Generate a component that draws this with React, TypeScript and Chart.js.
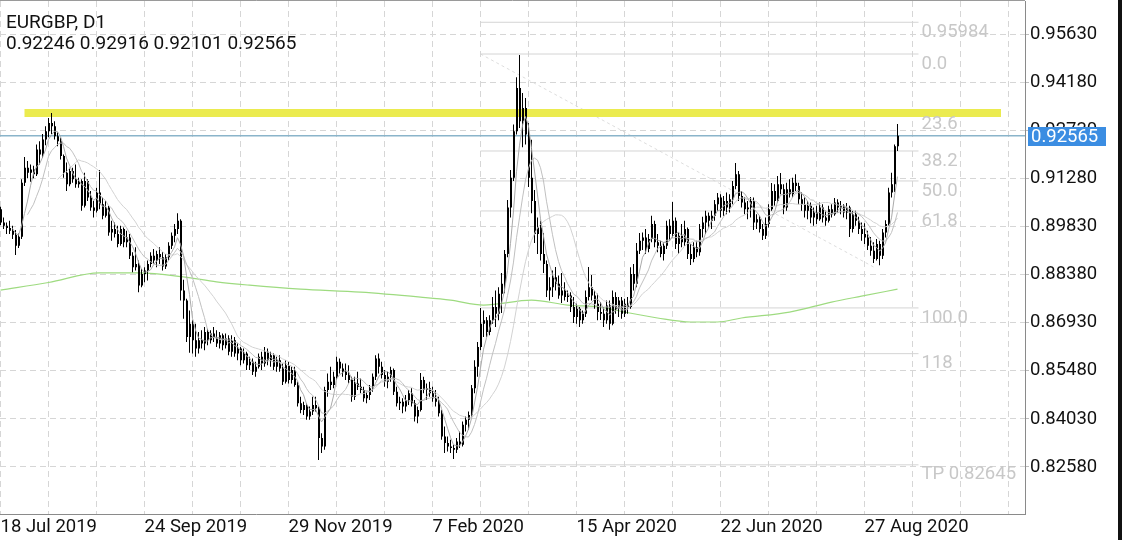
import React, { useEffect, useRef } from 'react';
import { Chart, registerables } from 'chart.js';

Chart.register(...registerables);

// ---- axis ticks ----
const dateLabels = ['18 Jul 2019', '24 Sep 2019', '29 Nov 2019', '7 Feb 2020', '15 Apr 2020', '22 Jun 2020', '27 Aug 2020'];
const dateLabelBars = [0, 48, 96, 144, 192, 240, 288];
const gridBars = [0, 16, 32, 48, 64, 80, 96, 112, 128, 144, 160, 176, 192, 208, 224, 240, 256, 272, 288, 304, 320, 336];
const priceTicks = [0.8258, 0.8403, 0.8548, 0.8693, 0.8838, 0.8983, 0.9128, 0.9273, 0.9418, 0.9563];

// ---- header ----
const symbolTitle = 'EURGBP, D1';
const lastBarText = '0.92246 0.92916 0.92101 0.92565';
const lastClose = 0.92565;

// ---- daily candles, [open, high, low, close] in units of 0.0001 ----
const candlesJulSep2019 = [
  [9035, 9042, 8987, 8995], [8995, 9010, 8975, 8985], [8985, 8995, 8960, 8978], [8978, 9000, 8960, 8970], [8970, 8985, 8945, 8958],
  [8958, 8972, 8897, 8925], [8925, 8962, 8918, 8952], [8952, 9125, 8945, 9115], [9115, 9192, 9105, 9160], [9160, 9180, 9128, 9145],
  [9145, 9170, 9118, 9155], [9155, 9166, 9128, 9140], [9140, 9230, 9135, 9215], [9215, 9240, 9170, 9200], [9200, 9262, 9190, 9245],
  [9245, 9285, 9228, 9270], [9270, 9310, 9252, 9295], [9295, 9325, 9262, 9285], [9285, 9300, 9245, 9255], [9255, 9266, 9225, 9240],
  [9240, 9250, 9185, 9195], [9195, 9200, 9130, 9145], [9145, 9176, 9090, 9110], [9110, 9160, 9104, 9150], [9150, 9160, 9115, 9125],
  [9125, 9170, 9100, 9110], [9110, 9130, 9100, 9120], [9120, 9125, 9030, 9045], [9045, 9145, 9040, 9120], [9120, 9125, 9060, 9070],
  [9070, 9090, 9030, 9040], [9040, 9060, 9010, 9030], [9030, 9100, 9025, 9085], [9085, 9153, 9035, 9050], [9050, 9070, 9005, 9015],
  [9015, 9060, 9010, 9040], [9040, 9045, 8955, 8965], [8965, 9000, 8940, 8975], [8975, 8995, 8950, 8960], [8960, 8985, 8920, 8930],
  [8930, 8985, 8925, 8975], [8975, 8980, 8920, 8935], [8935, 8970, 8920, 8950], [8950, 8960, 8885, 8895], [8895, 8905, 8845, 8860],
  [8860, 8920, 8850, 8870], [8870, 8880, 8785, 8805], [8805, 8855, 8800, 8840], [8840, 8860, 8815, 8850], [8850, 8880, 8820, 8870],
];
const candlesSepDec2019 = [
  [8870, 8905, 8860, 8895], [8895, 8915, 8870, 8880], [8880, 8910, 8860, 8900], [8900, 8920, 8870, 8890], [8890, 8905, 8850, 8862],
  [8862, 8900, 8855, 8890], [8890, 8935, 8880, 8925], [8925, 8965, 8915, 8955], [8955, 8990, 8935, 8975], [8975, 9023, 8960, 9000],
  [9000, 9005, 8760, 8790], [8790, 8822, 8705, 8760], [8760, 8765, 8635, 8650], [8650, 8730, 8602, 8690], [8690, 8700, 8600, 8640],
  [8640, 8690, 8590, 8615], [8615, 8665, 8600, 8640], [8640, 8670, 8615, 8630], [8630, 8680, 8610, 8665], [8665, 8675, 8625, 8640],
  [8640, 8670, 8630, 8660], [8660, 8680, 8635, 8650], [8650, 8670, 8620, 8630], [8630, 8665, 8615, 8655], [8655, 8660, 8610, 8625],
  [8625, 8660, 8615, 8645], [8645, 8655, 8595, 8605], [8605, 8655, 8590, 8640], [8640, 8650, 8590, 8600], [8600, 8630, 8580, 8615],
  [8615, 8620, 8565, 8580], [8580, 8615, 8570, 8600], [8600, 8605, 8550, 8565], [8565, 8590, 8550, 8575], [8575, 8585, 8535, 8545],
  [8545, 8575, 8530, 8560], [8560, 8600, 8555, 8590], [8590, 8605, 8550, 8570], [8570, 8620, 8560, 8605], [8605, 8615, 8565, 8580],
  [8580, 8605, 8560, 8595], [8595, 8600, 8550, 8560], [8560, 8590, 8545, 8580], [8580, 8595, 8545, 8555], [8555, 8570, 8505, 8515],
  [8515, 8580, 8510, 8565], [8565, 8575, 8510, 8520], [8520, 8560, 8510, 8550], [8550, 8560, 8500, 8505], [8505, 8515, 8440, 8450],
];
const candlesDecFeb2020 = [
  [8450, 8470, 8420, 8430], [8430, 8455, 8415, 8445], [8445, 8450, 8400, 8410], [8410, 8440, 8400, 8425], [8425, 8470, 8415, 8445],
  [8445, 8470, 8425, 8435], [8435, 8440, 8279, 8345], [8345, 8360, 8300, 8320], [8320, 8500, 8310, 8490], [8490, 8540, 8470, 8515],
  [8515, 8560, 8490, 8505], [8505, 8545, 8495, 8530], [8530, 8590, 8520, 8575], [8575, 8585, 8540, 8555], [8555, 8570, 8530, 8545],
  [8545, 8570, 8520, 8535], [8535, 8565, 8510, 8520], [8520, 8530, 8455, 8470], [8470, 8530, 8460, 8510], [8510, 8545, 8490, 8500],
  [8500, 8525, 8480, 8490], [8490, 8500, 8455, 8465], [8465, 8485, 8450, 8475], [8475, 8505, 8460, 8495], [8495, 8540, 8485, 8530],
  [8530, 8595, 8520, 8585], [8585, 8600, 8540, 8560], [8560, 8575, 8525, 8535], [8535, 8550, 8500, 8515], [8515, 8545, 8495, 8530],
  [8530, 8560, 8515, 8550], [8550, 8555, 8475, 8485], [8485, 8500, 8440, 8450], [8450, 8470, 8430, 8455], [8455, 8465, 8420, 8440],
  [8440, 8475, 8425, 8460], [8460, 8490, 8445, 8480], [8480, 8495, 8440, 8450], [8450, 8460, 8395, 8410], [8410, 8440, 8390, 8430],
  [8430, 8541, 8425, 8520], [8520, 8530, 8480, 8490], [8490, 8510, 8460, 8495], [8495, 8515, 8470, 8480], [8480, 8500, 8455, 8465],
  [8465, 8490, 8440, 8455], [8455, 8470, 8410, 8420], [8420, 8430, 8340, 8350], [8350, 8380, 8300, 8330], [8330, 8350, 8305, 8320],
];
const candlesFebApr2020 = [
  [8320, 8340, 8300, 8315], [8315, 8325, 8282, 8310], [8310, 8345, 8300, 8335], [8335, 8365, 8315, 8325], [8325, 8395, 8320, 8385],
  [8385, 8410, 8365, 8400], [8400, 8425, 8370, 8415], [8415, 8505, 8410, 8495], [8495, 8580, 8480, 8560], [8560, 8635, 8530, 8620],
  [8620, 8737, 8610, 8690], [8690, 8730, 8650, 8700], [8700, 8710, 8650, 8665], [8665, 8715, 8655, 8700], [8700, 8770, 8690, 8740],
  [8740, 8790, 8680, 8720], [8720, 8800, 8700, 8780], [8780, 8843, 8722, 8810], [8810, 8912, 8782, 8900], [8900, 9063, 8890, 9040],
  [9040, 9153, 9010, 9130], [9130, 9290, 9120, 9270], [9270, 9433, 9260, 9400], [9400, 9500, 9280, 9300], [9300, 9385, 9222, 9340],
  [9340, 9370, 9230, 9260], [9260, 9295, 9102, 9130], [9130, 9244, 9023, 9060], [9060, 9093, 8933, 8960], [8960, 9010, 8900, 8980],
  [8980, 9000, 8880, 8900], [8900, 8963, 8843, 8870], [8870, 8880, 8770, 8790], [8790, 8830, 8760, 8800], [8800, 8850, 8770, 8830],
  [8830, 8861, 8790, 8810], [8810, 8835, 8765, 8775], [8775, 8843, 8752, 8790], [8790, 8815, 8760, 8770], [8770, 8790, 8755, 8775],
  [8775, 8785, 8725, 8740], [8740, 8770, 8692, 8710], [8710, 8750, 8690, 8735], [8735, 8740, 8680, 8700], [8700, 8730, 8690, 8720],
  [8720, 8790, 8710, 8770], [8770, 8861, 8760, 8800], [8800, 8837, 8760, 8775], [8775, 8790, 8735, 8750], [8750, 8780, 8700, 8725],
];
const candlesAprJul2020 = [
  [8725, 8755, 8701, 8720], [8720, 8740, 8680, 8700], [8700, 8760, 8690, 8745], [8745, 8760, 8672, 8690], [8690, 8790, 8685, 8770],
  [8770, 8785, 8720, 8735], [8735, 8770, 8710, 8760], [8760, 8770, 8705, 8720], [8720, 8765, 8710, 8750], [8750, 8770, 8720, 8740],
  [8740, 8860, 8735, 8840], [8840, 8870, 8790, 8810], [8810, 8933, 8800, 8910], [8910, 8963, 8900, 8940], [8940, 8965, 8912, 8950],
  [8950, 8975, 8900, 8915], [8915, 8960, 8905, 8945], [8945, 9015, 8935, 8990], [8990, 9000, 8920, 8935], [8935, 8960, 8905, 8925],
  [8925, 8940, 8890, 8900], [8900, 8935, 8880, 8925], [8925, 9000, 8915, 8985], [8985, 9005, 8940, 8960], [8960, 9057, 8950, 9000],
  [9000, 9010, 8915, 8930], [8930, 8965, 8900, 8955], [8955, 8990, 8920, 8935], [8935, 9000, 8925, 8975], [8975, 8980, 8885, 8900],
  [8900, 8930, 8867, 8885], [8885, 8935, 8875, 8920], [8920, 8940, 8890, 8905], [8905, 8990, 8895, 8975], [8975, 9012, 8950, 8995],
  [8995, 9030, 8960, 9015], [9015, 9025, 8980, 9000], [9000, 9030, 8975, 9015], [9015, 9063, 9000, 9050], [9050, 9084, 9030, 9070],
  [9070, 9080, 9010, 9030], [9030, 9075, 9015, 9060], [9060, 9085, 9020, 9040], [9040, 9080, 9025, 9065], [9065, 9120, 9050, 9105],
  [9105, 9174, 9095, 9140], [9140, 9150, 9060, 9075], [9075, 9090, 9040, 9055], [9055, 9070, 9020, 9035], [9035, 9060, 9005, 9040],
];
const candlesJulSep2020 = [
  [9040, 9072, 9010, 9060], [9060, 9070, 8972, 8995], [8995, 9020, 8975, 9005], [9005, 9015, 8965, 8975], [8975, 8990, 8942, 8955],
  [8955, 9010, 8945, 8990], [8990, 9050, 8980, 9035], [9035, 9114, 9030, 9090], [9090, 9110, 9045, 9060], [9060, 9135, 9055, 9110],
  [9110, 9144, 9080, 9095], [9095, 9110, 9020, 9040], [9040, 9115, 9030, 9095], [9095, 9125, 9070, 9080], [9080, 9130, 9070, 9115],
  [9115, 9140, 9090, 9105], [9105, 9115, 9050, 9065], [9065, 9085, 9030, 9050], [9050, 9070, 9010, 9030], [9030, 9060, 9005, 9045],
  [9045, 9055, 8993, 9010], [9010, 9040, 8985, 9025], [9025, 9045, 8990, 9005], [9005, 9055, 9000, 9040], [9040, 9050, 8995, 9010],
  [9010, 9030, 8985, 9000], [9000, 9045, 8995, 9035], [9035, 9050, 9010, 9020], [9020, 9069, 9015, 9055], [9055, 9065, 9025, 9040],
  [9040, 9060, 9020, 9045], [9045, 9050, 9010, 9025], [9025, 9054, 9005, 9040], [9040, 9045, 8951, 8975], [8975, 9030, 8965, 9020],
  [9020, 9030, 8985, 9000], [9000, 9012, 8960, 8975], [8975, 8995, 8940, 8960], [8960, 8993, 8930, 8950], [8950, 8970, 8912, 8925],
  [8925, 8951, 8895, 8910], [8910, 8935, 8873, 8885], [8885, 8945, 8880, 8930], [8930, 8940, 8866, 8895], [8895, 8975, 8885, 8965],
  [8965, 9002, 8950, 8990], [8990, 9100, 8985, 9085], [9085, 9145, 9070, 9110], [9110, 9230, 9087, 9225], [9224.6, 9291.6, 9210.1, 9256.5],
];

// ---- long moving average (green), read at sample bars ----
const slowMaBars = [0, 16, 33, 46, 61, 72, 83, 100, 120, 140, 150, 161, 177, 189, 200, 208, 219, 230, 239, 247, 263, 277, 287, 299];
const slowMaValues = [0.8791, 0.8814, 0.8843, 0.8843, 0.8831, 0.8816, 0.8806, 0.8794, 0.8785, 0.8770, 0.8761, 0.8746, 0.8761, 0.8746, 0.8740, 0.8725, 0.8707, 0.8695, 0.8695, 0.8707, 0.8725, 0.8755, 0.8773, 0.8794];

// ---- short moving averages ----
const fastMaPeriods = [5, 10, 20];
const fastMaColors = ['#aaaaaa', '#c0c0c0', '#d2d2d2'];

// ---- Fibonacci object ----
const fibLabels = ['0.95984', '0.0', '23.6', '38.2', '50.0', '61.8', '100.0', '118', 'TP 0.82645'];
const fibPrices = [0.95984, 0.95027, 0.93221, 0.92104, 0.91201, 0.90297, 0.87374, 0.85996, 0.82645];
const fibStartBar = 160;
const fibEndBar = 306;
const fibTrendBars = [160, 291];
const fibTrendPrices = [0.95027, 0.8861];

// ---- horizontal lines ----
const resistanceBars = [8, 333.5];
const resistancePrice = 0.9325;

const allCandles = [
  ...candlesJulSep2019, ...candlesSepDec2019, ...candlesDecFeb2020,
  ...candlesFebApr2020, ...candlesAprJul2020, ...candlesJulSep2020,
];

function sma(values: number[], period: number): (number | null)[] {
  return values.map((_, i) => {
    if (i < period - 1) return null;
    let s = 0;
    for (let k = i - period + 1; k <= i; k++) s += values[k];
    return s / period;
  });
}

const FONT = 'Roboto';

const overlayPlugin = {
  id: 'overlayPlugin',
  afterDraw(chart: any) {
    const { ctx, chartArea } = chart;
    const x = chart.scales.x;
    const y = chart.scales.y;
    ctx.save();
    // top frame line
    ctx.strokeStyle = '#9a9a9a';
    ctx.lineWidth = 1;
    ctx.beginPath();
    ctx.moveTo(0, 0.5);
    ctx.lineTo(chartArea.right, 0.5);
    ctx.stroke();
    // fib labels
    ctx.font = `18.5px ${FONT}`;
    ctx.textAlign = 'left';
    ctx.textBaseline = 'middle';
    ctx.fillStyle = '#c8c8c8';
    const lx = x.getPixelForValue(fibEndBar) + 3;
    fibLabels.forEach((t, i) => {
      ctx.fillText(t, lx, y.getPixelForValue(fibPrices[i]) + 10);
    });
    // price tag
    const py = y.getPixelForValue(lastClose);
    ctx.fillStyle = '#3b8de2';
    ctx.fillRect(chartArea.right + 3, Math.round(py) - 9, 78, 19);
    ctx.fillStyle = '#ffffff';
    ctx.font = `18.5px ${FONT}`;
    ctx.fillText(lastClose.toFixed(5), chartArea.right + 6, Math.round(py) + 1);
    ctx.restore();
  },
};

function noPad(s: any) {
  s.paddingTop = 0;
  s.paddingBottom = 0;
  s.paddingLeft = 0;
  s.paddingRight = 0;
}

export default function App() {
  const ref = useRef<HTMLCanvasElement>(null);

  useEffect(() => {
    if (!ref.current) return;
    const closes = allCandles.map((c) => c[3] / 10000);

    const datasets: any[] = [];

    fibPrices.forEach((p) => {
      datasets.push({
        type: 'line',
        data: [{ x: fibStartBar, y: p }, { x: fibEndBar, y: p }],
        borderColor: '#d4d4d4',
        borderWidth: 1,
        pointRadius: 0,
        order: 9,
      });
    });
    datasets.push({
      type: 'line',
      data: fibTrendBars.map((b, i) => ({ x: b, y: fibTrendPrices[i] })),
      borderColor: '#dddddd',
      borderWidth: 1,
      borderDash: [3, 3],
      pointRadius: 0,
      order: 9,
    });
    datasets.push({
      type: 'line',
      data: resistanceBars.map((b) => ({ x: b, y: resistancePrice })),
      borderColor: '#ebeb4f',
      borderWidth: 8,
      borderCapStyle: 'butt',
      pointRadius: 0,
      order: 8,
    });
    datasets.push({
      type: 'line',
      data: [{ x: -5, y: lastClose }, { x: 400, y: lastClose }],
      borderColor: '#8ab4ca',
      borderWidth: 1.5,
      pointRadius: 0,
      order: 7,
    });
    datasets.push({
      type: 'line',
      data: slowMaBars.map((b, i) => ({ x: b, y: slowMaValues[i] })),
      borderColor: '#9edb80',
      borderWidth: 1.2,
      pointRadius: 0,
      cubicInterpolationMode: 'monotone',
      order: 6,
    });
    datasets.push({
      type: 'bar',
      data: allCandles.map((c, i) => ({ x: i, y: [c[2] / 10000, c[1] / 10000] })),
      backgroundColor: '#000000',
      barThickness: 1,
      grouped: false,
      inflateAmount: 0,
      borderWidth: 0,
      order: 3,
    });
    datasets.push({
      type: 'bar',
      data: allCandles.map((c, i) => ({ x: i + 1 / 6, y: [c[0] / 10000, c[3] / 10000] })),
      backgroundColor: '#000000',
      barThickness: 2,
      minBarLength: 1,
      grouped: false,
      inflateAmount: 0,
      borderWidth: 0,
      order: 2,
    });
    fastMaPeriods.forEach((p, k) => {
      const vals = sma(closes, p);
      datasets.push({
        type: 'line',
        data: vals.map((v, i) => ({ x: i, y: v })),
        borderColor: fastMaColors[k],
        borderWidth: 1,
        pointRadius: 0,
        spanGaps: false,
        order: 1,
      });
    });

    const chart = new Chart(ref.current, {
      type: 'line',
      data: { datasets },
      options: {
        animation: false,
        responsive: false,
        maintainAspectRatio: false,
        devicePixelRatio: 1,
        events: [],
        layout: { padding: { left: 0, right: 0, top: 1, bottom: 0 } },
        plugins: { legend: { display: false }, tooltip: { enabled: false } },
        scales: {
          x: {
            type: 'linear',
            bounds: 'data',
            min: -1 / 6,
            max: -1 / 6 + 1025 / 3,
            offset: false,
            afterBuildTicks: (s: any) => { s.ticks = gridBars.map((v) => ({ value: v })); },
            afterFit: (s: any) => { s.height = 26; noPad(s); },
            ticks: {
              autoSkip: false,
              maxRotation: 0,
              minRotation: 0,
              align: 'start',
              padding: 2,
              color: '#111111',
              font: { family: FONT, size: 18.5 },
              callback: (v: any) => {
                const k = dateLabelBars.indexOf(Number(v));
                return k >= 0 ? dateLabels[k] : '';
              },
            },
            grid: { color: '#d6d6d6', lineWidth: 1, drawTicks: false, offset: false },
            border: { display: true, color: '#8a8a8a', width: 1, dash: [6, 4] },
          },
          y: {
            type: 'linear',
            position: 'right',
            bounds: 'data',
            min: 0.81163,
            max: 0.96625,
            afterBuildTicks: (s: any) => { s.ticks = priceTicks.map((v) => ({ value: v })); },
            afterFit: (s: any) => { s.width = 97; noPad(s); },
            ticks: {
              padding: 1,
              color: '#111111',
              font: { family: FONT, size: 18.5 },
              callback: (v: any) => Number(v).toFixed(5),
            },
            grid: { color: '#d6d6d6', lineWidth: 1, drawTicks: true, tickLength: 4, tickColor: '#bdbdbd' },
            border: { display: true, color: '#8a8a8a', width: 1, dash: [6, 4] },
          },
        },
      } as any,
      plugins: [overlayPlugin],
    } as any);
    return () => chart.destroy();
  }, []);

  return (
    <div style={{ position: 'fixed', left: 0, top: 0, width: 1122, height: 540, background: '#ffffff', overflow: 'hidden' }}>
      <canvas ref={ref} width={1122} height={540} style={{ position: 'absolute', left: 0, top: 0, width: 1122, height: 540 }} />
      <div style={{ position: 'absolute', left: 6, top: 11, font: `19px ${FONT}`, lineHeight: '22px', color: '#111', whiteSpace: 'nowrap' }}>{symbolTitle}</div>
      <div style={{ position: 'absolute', left: 6, top: 32, font: `19px ${FONT}`, lineHeight: '22px', color: '#111', whiteSpace: 'nowrap' }}>{lastBarText}</div>
      <div style={{ position: 'absolute', left: 1118, top: 0, width: 4, height: 540, background: '#111' }} />
    </div>
  );
}
